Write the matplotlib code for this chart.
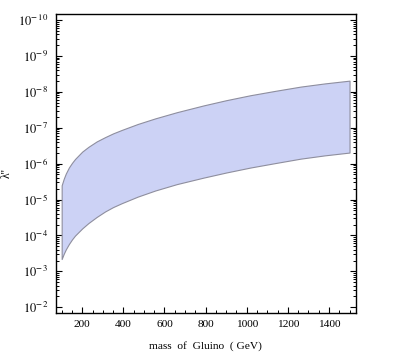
import numpy as np
import matplotlib
matplotlib.use("Agg")
import matplotlib.pyplot as plt
from matplotlib.ticker import FixedLocator, MultipleLocator, NullFormatter

plt.rcParams['font.family'] = ['Liberation Serif', 'DejaVu Serif']
plt.rcParams['mathtext.fontset'] = 'stix'

# Gluino mass (GeV)
mass = [100, 110, 120, 135, 150, 165, 200, 230, 270, 311, 350, 393, 470, 555,
        660, 790, 900, 1018, 1140, 1262, 1380, 1500]
# log10 of lambda'' bounds
upper_log = [-5.397, -5.577, -5.722, -5.892, -6.020, -6.130, -6.336, -6.468, -6.618,
             -6.738, -6.843, -6.941, -7.105, -7.261, -7.433, -7.622, -7.767, -7.906,
             -8.029, -8.146, -8.235, -8.312]
lower_log = [-3.343, -3.488, -3.610, -3.760, -3.888, -3.997, -4.197, -4.345, -4.514,
             -4.668, -4.790, -4.901, -5.082, -5.252, -5.430, -5.611, -5.753, -5.892,
             -6.017, -6.139, -6.231, -6.309]

x_ticks = [200, 400, 600, 800, 1000, 1200, 1400]
y_exponents = [-10, -9, -8, -7, -6, -5, -4, -3, -2]

lam_hi = [10.0 ** v for v in upper_log]
lam_lo = [10.0 ** v for v in lower_log]

fig = plt.figure(figsize=(3.93, 3.60), dpi=100)
ax = fig.add_axes([55.5 / 393, 1 - 313 / 360, 300.2 / 393, (313 - 14.3) / 360])

ax.fill_between(mass, lam_hi, lam_lo, facecolor='#CCD2F5', edgecolor='#8E8E9E',
                linewidth=0.8, zorder=2)

ax.set_yscale('log')
ax.set_ylim(10 ** -1.84, 10 ** -10.16)
ax.set_xlim(70, 1530)

# major y ticks
ax.yaxis.set_major_locator(FixedLocator([10.0 ** e for e in y_exponents]))
ax.set_yticklabels([r'$10^{-\,%d}$' % (-e) for e in y_exponents])
# minor y ticks (reciprocal spacing)
minor = []
for n in range(2, 11):
    for k in range(2, 10):
        minor.append(10.0 ** (-n) / k)
ax.yaxis.set_minor_locator(FixedLocator(minor))
ax.yaxis.set_minor_formatter(NullFormatter())

ax.xaxis.set_major_locator(FixedLocator(x_ticks))
ax.xaxis.set_minor_locator(MultipleLocator(50))
ax.set_xticklabels([str(v) for v in x_ticks])

ax.tick_params(axis='both', which='both', direction='in', colors='black')
ax.tick_params(axis='y', which='both', left=True, right=True)
ax.tick_params(axis='x', which='both', bottom=True, top=False)
ax.tick_params(which='major', length=4, width=0.8)
ax.tick_params(which='minor', length=2.5, width=0.7)
ax.tick_params(axis='y', which='major', pad=5, labelsize=9)
ax.tick_params(axis='x', which='major', pad=5, labelsize=8.2)

for s in ax.spines.values():
    s.set_linewidth(1.0)
    s.set_color('black')

fig.text(205 / 393, 1 - 346 / 360, 'mass  of  Gluino  ( GeV)', ha='center', va='center',
         fontsize=8.2)
fig.text(7 / 393, 1 - 173 / 360, "λ''", ha='center', va='center', rotation=90, fontsize=8.5)

fig.savefig('out.png', dpi=100)
